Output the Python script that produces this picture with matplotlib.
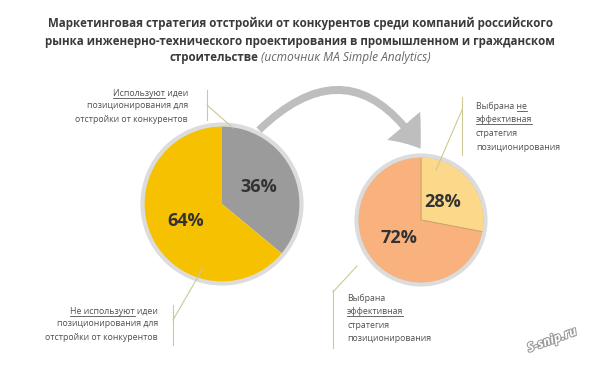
import matplotlib.pyplot as plt
from matplotlib.patches import Circle, FancyArrowPatch
import matplotlib.patheffects as pe

plt.rcParams['font.family'] = ['Open Sans', 'DejaVu Sans']

# data
title_lines = ['Маркетинговая стратегия отстройки от конкурентов среди компаний российского',
               'рынка инженерно-технического проектирования в промышленном и гражданском']
title_last = 'строительстве'
title_source = '(источник MA Simple Analytics)'

big_values = [36, 64]          # используют / не используют
big_colors = ['#9b9b9b', '#f6c100']
small_values = [28, 72]        # не эффективная / эффективная
small_colors = ['#fcd88a', '#f9b17d']

# label lines: list of (text, underlined part)
lbl_use = [('Используют идеи', 'Используют'), ('позиционирования для', None),
           ('отстройки от конкурентов', None)]
lbl_not_use = [('Не используют идеи', 'Не используют'), ('позиционирования для', None),
               ('отстройки от конкурентов', None)]
lbl_bad = [('Выбрана не', 'не'), ('эффективная', 'эффективная'), ('стратегия', None),
           ('позиционирования', None)]
lbl_good = [('Выбрана', None), ('эффективная', 'эффективная'), ('стратегия', None),
            ('позиционирования', None)]

W, H = 600, 375
fig = plt.figure(figsize=(6, 3.75), dpi=100)
ax = fig.add_axes([0, 0, 1, 1])


def Y(y):
    return H - y


big_c = (222, Y(204))
small_c = (421, Y(220))

pct_style = dict(fontsize=13, fontweight='bold', color='#333333')
ax.pie(big_values, colors=big_colors, startangle=90, counterclock=False,
       center=big_c, radius=78, autopct='%.0f%%', pctdistance=0.52,
       textprops=pct_style, wedgeprops=dict(linewidth=0))
ax.add_patch(Circle(big_c, 79.5, fill=False, edgecolor='#dcdcdc', lw=3))

ax.pie(small_values, colors=small_colors, startangle=90, counterclock=False,
       center=small_c, radius=63, autopct='%.0f%%', pctdistance=0.45,
       textprops=pct_style, wedgeprops=dict(linewidth=0.6, edgecolor='#c9a36a'))
ax.add_patch(Circle(small_c, 64.5, fill=False, edgecolor='#dcdcdc', lw=3))

ax.set_xlim(0, W)
ax.set_ylim(0, H)
ax.set_aspect('equal')
ax.axis('off')

# curved arrow
arrow = FancyArrowPatch((257, Y(132)), (422, Y(151)),
                        connectionstyle='arc3,rad=-0.62',
                        arrowstyle='simple,head_width=2.6,head_length=1.7,tail_width=0.45',
                        mutation_scale=12, color='#bebebe', lw=0)
ax.add_patch(arrow)

# title
tkw = dict(fontsize=8.3, fontweight='bold', color='#3a3a3a', ha='center', va='center')
ax.text(300, Y(23), title_lines[0], **tkw)
ax.text(300, Y(41), title_lines[1], **tkw)
renderer = fig.canvas.get_renderer()


def width(s, **kw):
    t = ax.text(0, 0, s, **kw)
    w = t.get_window_extent(renderer).width
    t.remove()
    return w


src_kw = dict(fontsize=8.6, fontstyle='italic', color='#666666', va='center')
tb_kw = dict(fontsize=8.3, fontweight='bold', color='#3a3a3a', va='center')
w1 = width(title_last + ' ', **tb_kw)
w2 = width(title_source, **src_kw)
x0 = 300 - (w1 + w2) / 2
ax.text(x0, Y(58), title_last, ha='left', **tb_kw)
ax.text(x0 + w1, Y(58), title_source, ha='left', **src_kw)

# labels
lkw = dict(fontsize=6.3, color='#505050', va='center')


def label_block(x, y0, lines, ha, step=13):
    for i, (s, ul) in enumerate(lines):
        y = Y(y0 + i * step)
        ax.text(x, y, s, ha=ha, **lkw)
        if ul:
            full = width(s, **lkw)
            left = x - full if ha == 'right' else x
            end = s.index(ul) + len(ul)
            x2 = left + width(s[:end], **lkw)
            x1 = x2 - width(ul, **lkw)
            ax.plot([x1, x2], [y - 4.5, y - 4.5], color='#505050', lw=0.6)


label_block(188, 93, lbl_use, 'right')
label_block(158, 311, lbl_not_use, 'right')
label_block(476, 106, lbl_bad, 'left', step=13.8)
label_block(347, 298, lbl_good, 'left', step=13.5)

# leader lines
lc = '#cdc995'
ax.plot([207, 207], [Y(90), Y(120)], color=lc, lw=0.8)
ax.plot([207, 233], [Y(105), Y(128)], color=lc, lw=0.8)
ax.plot([173, 173], [Y(305), Y(345)], color=lc, lw=0.8)
ax.plot([173, 203], [Y(320), Y(268)], color=lc, lw=0.8)
ax.plot([462, 462], [Y(97), Y(155)], color=lc, lw=0.8)
ax.plot([462, 436], [Y(110), Y(170)], color=lc, lw=0.8)
ax.plot([333, 333], [Y(290), Y(348)], color=lc, lw=0.8)
ax.plot([333, 357], [Y(292), Y(266)], color=lc, lw=0.8)

# watermark
ax.text(552, Y(340), 'S-snip.ru', fontsize=9, fontweight='bold', fontstyle='italic',
        color='white', rotation=20, ha='center', va='center',
        path_effects=[pe.withStroke(linewidth=1.5, foreground='#9a9a9a')])

fig.savefig('out.png', dpi=100, facecolor='white')
